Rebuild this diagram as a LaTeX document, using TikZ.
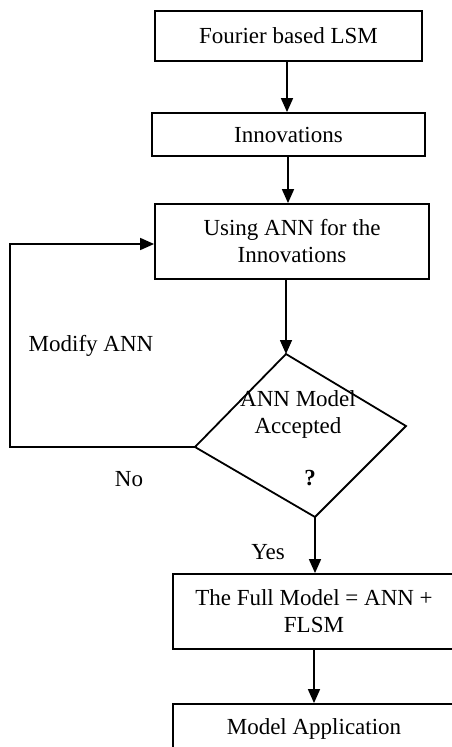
\documentclass[tikz,border=0pt]{standalone}
\usepackage{fontspec}
\setmainfont{Liberation Serif}
\usetikzlibrary{arrows.meta}
\begin{document}
\begin{tikzpicture}[x=1pt,y=-1pt,
  font=\fontsize{23}{27}\selectfont,
  box/.style={draw, line width=1.8pt, inner sep=0pt, align=center, rectangle},
  flow/.style={line width=1.6pt, -{Triangle[width=12pt,length=14pt]}},
  lbl/.style={inner sep=0pt, align=center}]
\useasboundingbox (0,0) rectangle (452,747);
\fill[white] (0,0) rectangle (452,747);
\clip (0,0) rectangle (452,747);

% process boxes
\node[box, minimum width=267pt, minimum height=50pt] (fourier) at (288.5,36) {Fourier based LSM};
\node[box, minimum width=273pt, minimum height=43pt] (innov) at (288.5,134.5) {Innovations};
\node[box, minimum width=274pt, minimum height=75pt] (usingann) at (292,241.5) {Using ANN for the\\Innovations};
\node[box, minimum width=282pt, minimum height=75pt] (full) at (314,611.5) {The Full Model = ANN +\\FLSM};
\node[box, minimum width=282pt, minimum height=50pt] (apply) at (314,729) {Model Application};

% decision shape
\coordinate (dtop) at (286,354);
\coordinate (dright) at (406,426);
\coordinate (dbot) at (315,517);
\coordinate (dleft) at (195,447);
\draw[line width=1.8pt, line join=miter] (dtop) -- (dright) -- (dbot) -- (dleft) -- cycle;
\node[lbl] (dtext) at (298,414) {ANN Model\\Accepted};
\node[lbl, font=\fontsize{23}{27}\selectfont\bfseries] (qmark) at (310,478) {?};

% connectors
\draw[flow] (fourier.south -| 287,0) -- (287,0 |- innov.north);
\draw[flow] (innov.south -| 288,0) -- (288,0 |- usingann.north);
\draw[flow] (dtop |- usingann.south) -- (dtop);
\draw[flow] (dbot) -- (dbot |- full.north);
\draw[flow] (full.south) -- (apply.north);

% feedback loop
\coordinate (lx) at (10,244);
\draw[flow] (dleft) -| (lx) -- (lx -| usingann.west);

% labels
\node[lbl] (modify) at (91,346) {Modify ANN};
\node[lbl] (no) at (129,479) {No};
\node[lbl] (yes) at (268,552) {Yes};
\end{tikzpicture}
\end{document}
